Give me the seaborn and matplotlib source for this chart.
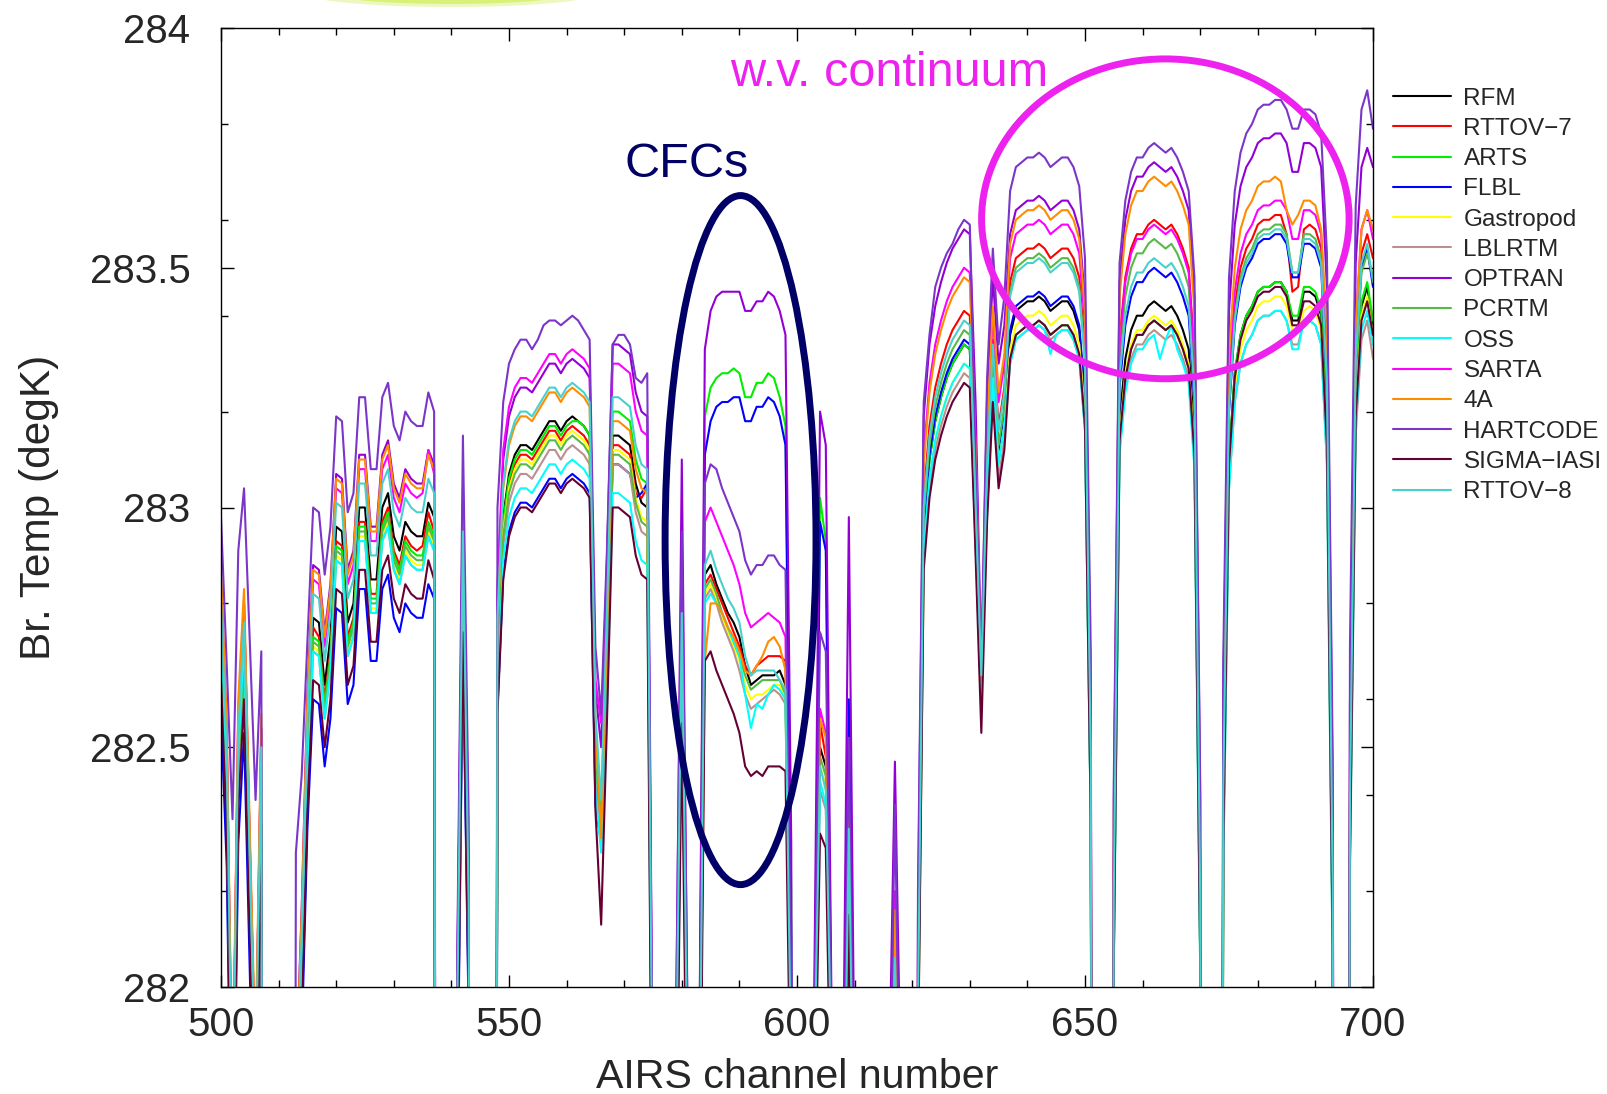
import matplotlib
matplotlib.use("Agg")
import matplotlib.pyplot as plt
import numpy as np
import pandas as pd
import seaborn as sns
from matplotlib.patches import Ellipse
from matplotlib.ticker import MultipleLocator, FuncFormatter

# ---------------------------------------------------------------- data
D = 276.0   # channels whose brightness temperature is far below the plotted range
channels = list(range(500, 701))

rfm = [
    282.72, 282.40, 281.60, 282.45, 282.68, 282.18, 281.70, 282.42, D, D,
    D, D, D, 281.70, 282.05, 282.50, 282.77, 282.76, 282.63, 282.73,
    282.96, 282.95, 282.76, 282.80, 283.00, 283.00, 282.85, 282.85, 283.00, 283.03,
    282.94, 282.91, 282.97, 282.95, 282.94, 282.94, 283.01, 282.98, D, D,
    D, 281.85, 282.88, 282.10, D, D, D, D, 282.70, 282.98,
    283.07, 283.11, 283.13, 283.13, 283.12, 283.14, 283.16, 283.18, 283.18, 283.16,
    283.18, 283.19, 283.18, 283.17, 283.15, 282.50, 282.35, 282.70, 283.15, 283.15,
    283.14, 283.13, 283.05, 283.01, 283.00, 281.50, D, D, D, 281.70,
    282.70, 281.70, D, 281.50, 282.86, 282.88, 282.84, 282.81, 282.78, 282.76,
    282.73, 282.67, 282.63, 282.64, 282.65, 282.65, 282.65, 282.66, 282.63, 281.80,
    D, D, D, 281.80, 282.50, 282.46, 281.80, D, 281.50, 282.30,
    281.50, D, D, D, D, D, 281.50, 282.10, 281.50, D,
    D, 281.90, 282.95, 283.10, 283.18, 283.23, 283.27, 283.30, 283.32, 283.34,
    283.33, 282.98, 282.62, 283.05, 283.30, 283.12, 283.20, 283.36, 283.41, 283.42,
    283.43, 283.43, 283.44, 283.43, 283.41, 283.42, 283.43, 283.43, 283.41, 283.37,
    283.22, 282.40, D, D, D, 282.10, 283.18, 283.31, 283.37, 283.40,
    283.40, 283.42, 283.43, 283.42, 283.41, 283.42, 283.40, 283.37, 283.33, 283.15,
    282.10, D, D, D, 282.30, 283.10, 283.28, 283.36, 283.40, 283.42,
    283.45, 283.46, 283.46, 283.47, 283.47, 283.45, 283.39, 283.39, 283.45, 283.45,
    283.44, 283.40, 283.15, 282.10, D, D, 282.30, 283.22, 283.42, 283.46,
    283.38]

rttov7 = [
    282.75, 282.43, 281.63, 282.48, 282.71, 282.21, 281.73, 282.45, D, D,
    D, D, D, 281.67, 282.02, 282.47, 282.75, 282.73, 282.60, 282.70,
    282.93, 282.92, 282.73, 282.77, 282.97, 282.97, 282.82, 282.82, 282.97, 283.00,
    282.91, 282.88, 282.94, 282.92, 282.91, 282.92, 282.99, 282.95, D, D,
    D, 281.82, 282.85, 282.07, D, D, D, D, 282.68, 282.96,
    283.05, 283.09, 283.11, 283.11, 283.10, 283.12, 283.14, 283.16, 283.16, 283.14,
    283.16, 283.17, 283.16, 283.15, 283.13, 282.48, 282.35, 282.68, 283.13, 283.13,
    283.12, 283.11, 283.03, 283.02, 283.04, 281.50, D, D, D, 281.68,
    282.68, 281.68, D, 281.50, 282.84, 282.86, 282.83, 282.80, 282.77, 282.74,
    282.71, 282.67, 282.65, 282.67, 282.68, 282.69, 282.69, 282.69, 282.68, 281.85,
    D, D, D, 281.82, 282.55, 282.48, 281.82, D, 281.50, 282.35,
    281.50, D, D, D, D, D, 281.50, 282.12, 281.50, D,
    D, 281.95, 283.02, 283.17, 283.25, 283.30, 283.34, 283.37, 283.39, 283.41,
    283.40, 283.05, 282.64, 283.10, 283.35, 283.17, 283.25, 283.47, 283.52, 283.53,
    283.54, 283.54, 283.55, 283.54, 283.52, 283.53, 283.54, 283.54, 283.52, 283.48,
    283.33, 282.50, D, D, D, 282.25, 283.35, 283.48, 283.54, 283.57,
    283.57, 283.59, 283.60, 283.59, 283.58, 283.59, 283.57, 283.54, 283.50, 283.32,
    282.25, D, D, D, 282.44, 283.24, 283.42, 283.50, 283.54, 283.56,
    283.59, 283.60, 283.60, 283.61, 283.61, 283.57, 283.45, 283.46, 283.58, 283.59,
    283.58, 283.54, 283.28, 282.20, D, D, 282.40, 283.33, 283.53, 283.57,
    283.52]

arts = [
    282.74, 282.42, 281.62, 282.47, 282.70, 282.20, 281.72, 282.44, D, D,
    D, D, D, 281.66, 282.01, 282.46, 282.73, 282.72, 282.59, 282.69,
    282.92, 282.91, 282.72, 282.76, 282.96, 282.96, 282.81, 282.81, 282.96, 282.99,
    282.90, 282.87, 282.93, 282.91, 282.90, 282.90, 282.97, 282.94, D, D,
    D, 281.87, 282.90, 282.12, D, D, D, D, 282.69, 282.97,
    283.06, 283.10, 283.12, 283.12, 283.11, 283.13, 283.15, 283.17, 283.17, 283.15,
    283.17, 283.18, 283.18, 283.17, 283.15, 282.49, 282.37, 282.75, 283.20, 283.20,
    283.19, 283.18, 283.10, 283.06, 283.05, 281.55, D, D, D, 281.75,
    282.75, 281.75, D, 281.80, 283.19, 283.25, 283.27, 283.28, 283.28, 283.29,
    283.28, 283.23, 283.23, 283.26, 283.26, 283.28, 283.27, 283.23, 283.17, 282.20,
    D, D, D, 281.90, 283.02, 282.93, 281.90, D, 281.60, 282.55,
    281.60, D, D, D, D, D, 281.50, 282.12, 281.50, D,
    D, 281.90, 282.95, 283.10, 283.18, 283.23, 283.27, 283.30, 283.32, 283.34,
    283.33, 282.98, 282.62, 283.04, 283.29, 283.11, 283.19, 283.31, 283.36, 283.37,
    283.38, 283.38, 283.39, 283.38, 283.36, 283.37, 283.38, 283.38, 283.36, 283.32,
    283.17, 282.35, D, D, D, 282.06, 283.14, 283.27, 283.33, 283.36,
    283.36, 283.38, 283.39, 283.38, 283.37, 283.38, 283.36, 283.33, 283.29, 283.11,
    282.06, D, D, D, 282.30, 283.10, 283.28, 283.36, 283.40, 283.42,
    283.45, 283.46, 283.46, 283.47, 283.47, 283.45, 283.40, 283.40, 283.46, 283.46,
    283.45, 283.41, 283.16, 282.10, D, D, 282.31, 283.23, 283.43, 283.47,
    283.39]

flbl = [
    282.57, 282.25, 281.45, 282.30, 282.53, 282.03, 281.55, 282.27, D, D,
    D, D, D, 281.53, 281.88, 282.33, 282.60, 282.59, 282.46, 282.56,
    282.79, 282.78, 282.59, 282.63, 282.83, 282.83, 282.68, 282.68, 282.83, 282.86,
    282.77, 282.74, 282.80, 282.78, 282.77, 282.77, 282.84, 282.81, D, D,
    D, 281.68, 282.71, 281.93, D, D, D, D, 282.58, 282.86,
    282.95, 282.99, 283.01, 283.01, 283.00, 283.02, 283.04, 283.06, 283.06, 283.04,
    283.06, 283.07, 283.06, 283.05, 283.03, 282.38, 282.30, 282.64, 283.09, 283.09,
    283.08, 283.07, 283.02, 283.03, 283.05, 281.50, D, D, D, 281.70,
    282.70, 281.70, D, 281.75, 283.11, 283.18, 283.21, 283.22, 283.22, 283.23,
    283.23, 283.18, 283.18, 283.21, 283.21, 283.23, 283.22, 283.19, 283.13, 282.10,
    D, D, D, 281.85, 282.97, 282.91, 281.85, D, 281.60, 282.60,
    281.60, D, D, D, D, D, 281.50, 282.10, 281.50, D,
    D, 281.91, 282.96, 283.11, 283.19, 283.24, 283.28, 283.31, 283.33, 283.35,
    283.34, 282.99, 282.62, 283.05, 283.30, 283.12, 283.20, 283.37, 283.42, 283.43,
    283.44, 283.44, 283.45, 283.44, 283.42, 283.43, 283.44, 283.44, 283.42, 283.38,
    283.23, 282.41, D, D, D, 282.17, 283.25, 283.38, 283.44, 283.47,
    283.47, 283.49, 283.50, 283.49, 283.48, 283.49, 283.47, 283.44, 283.40, 283.22,
    282.17, D, D, D, 282.40, 283.20, 283.38, 283.46, 283.50, 283.52,
    283.55, 283.56, 283.56, 283.57, 283.57, 283.55, 283.48, 283.48, 283.55, 283.55,
    283.54, 283.50, 283.25, 282.20, D, D, 282.38, 283.30, 283.50, 283.54,
    283.46]

gastropod = [
    282.70, 282.38, 281.58, 282.43, 282.66, 282.16, 281.68, 282.40, D, D,
    D, D, D, 281.64, 281.99, 282.44, 282.71, 282.70, 282.57, 282.67,
    282.90, 282.89, 282.70, 282.74, 282.94, 282.94, 282.79, 282.79, 282.94, 282.97,
    282.88, 282.85, 282.91, 282.89, 282.88, 282.88, 282.95, 282.92, D, D,
    D, 281.81, 282.84, 282.06, D, D, D, D, 282.67, 282.95,
    283.04, 283.08, 283.10, 283.10, 283.09, 283.11, 283.13, 283.15, 283.15, 283.13,
    283.15, 283.16, 283.15, 283.14, 283.12, 282.47, 282.33, 282.67, 283.12, 283.12,
    283.11, 283.10, 283.02, 282.98, 282.97, 281.47, D, D, D, 281.66,
    282.66, 281.66, D, 281.47, 282.82, 282.84, 282.81, 282.77, 282.74, 282.71,
    282.68, 282.63, 282.60, 282.61, 282.61, 282.62, 282.63, 282.63, 282.60, 281.78,
    D, D, D, 281.78, 282.46, 282.42, 281.78, D, 281.48, 282.28,
    281.48, D, D, D, D, D, 281.48, 282.03, 281.48, D,
    D, 281.84, 282.88, 283.04, 283.13, 283.19, 283.23, 283.26, 283.28, 283.30,
    283.29, 282.95, 282.61, 283.02, 283.27, 283.09, 283.17, 283.33, 283.38, 283.39,
    283.40, 283.40, 283.41, 283.40, 283.38, 283.39, 283.40, 283.40, 283.38, 283.34,
    283.19, 282.37, D, D, D, 282.07, 283.15, 283.28, 283.34, 283.37,
    283.37, 283.39, 283.40, 283.39, 283.38, 283.39, 283.37, 283.34, 283.30, 283.12,
    282.07, D, D, D, 282.27, 283.07, 283.25, 283.33, 283.37, 283.39,
    283.42, 283.43, 283.43, 283.44, 283.44, 283.42, 283.37, 283.37, 283.41, 283.42,
    283.41, 283.37, 283.12, 282.07, D, D, 282.28, 283.20, 283.40, 283.44,
    283.36]

lblrtm = [
    282.69, 282.37, 281.57, 282.42, 282.65, 282.15, 281.67, 282.39, D, D,
    D, D, D, 281.63, 281.98, 282.43, 282.70, 282.69, 282.56, 282.66,
    282.89, 282.88, 282.69, 282.73, 282.93, 282.93, 282.78, 282.78, 282.93, 282.96,
    282.87, 282.84, 282.90, 282.88, 282.87, 282.87, 282.94, 282.91, D, D,
    D, 281.79, 282.82, 282.04, D, D, D, D, 282.64, 282.92,
    283.01, 283.05, 283.07, 283.07, 283.06, 283.08, 283.10, 283.12, 283.12, 283.10,
    283.12, 283.13, 283.12, 283.11, 283.09, 282.44, 282.32, 282.64, 283.09, 283.09,
    283.08, 283.07, 282.99, 282.95, 282.94, 281.44, D, D, D, 281.64,
    282.64, 281.64, D, 281.44, 282.81, 282.83, 282.80, 282.76, 282.73, 282.70,
    282.66, 282.61, 282.58, 282.59, 282.60, 282.61, 282.62, 282.61, 282.59, 281.75,
    D, D, D, 281.75, 282.41, 282.37, 281.75, D, 281.45, 282.25,
    281.45, D, D, D, D, D, 281.45, 282.02, 281.45, D,
    D, 281.84, 282.89, 283.04, 283.12, 283.17, 283.21, 283.24, 283.26, 283.28,
    283.27, 282.92, 282.60, 282.99, 283.24, 283.06, 283.14, 283.30, 283.35, 283.36,
    283.37, 283.37, 283.38, 283.37, 283.35, 283.36, 283.37, 283.37, 283.35, 283.31,
    283.16, 282.34, D, D, D, 282.04, 283.12, 283.25, 283.31, 283.34,
    283.34, 283.36, 283.37, 283.36, 283.35, 283.36, 283.34, 283.31, 283.27, 283.09,
    282.04, D, D, D, 282.24, 283.04, 283.22, 283.30, 283.34, 283.36,
    283.39, 283.40, 283.40, 283.41, 283.41, 283.39, 283.34, 283.34, 283.39, 283.39,
    283.38, 283.34, 283.09, 282.04, D, D, 282.23, 283.15, 283.35, 283.39,
    283.31]

optran = [
    282.84, 282.52, 281.72, 282.57, 282.80, 282.30, 281.82, 282.54, D, D,
    D, D, D, 281.81, 282.16, 282.61, 282.88, 282.87, 282.74, 282.84,
    283.07, 283.06, 282.87, 282.91, 283.11, 283.11, 282.96, 282.96, 283.11, 283.14,
    283.05, 283.02, 283.08, 283.06, 283.05, 283.05, 283.12, 283.09, D, D,
    D, 281.98, 283.01, 282.23, D, D, D, D, 282.82, 283.10,
    283.19, 283.23, 283.25, 283.25, 283.24, 283.26, 283.28, 283.30, 283.30, 283.28,
    283.30, 283.31, 283.30, 283.29, 283.27, 282.62, 282.50, 282.89, 283.34, 283.34,
    283.33, 283.32, 283.24, 283.20, 283.19, 281.69, D, D, D, 281.90,
    283.10, 281.90, D, 281.80, 283.33, 283.41, 283.44, 283.45, 283.45, 283.45,
    283.45, 283.41, 283.41, 283.43, 283.43, 283.45, 283.44, 283.41, 283.36, 282.30,
    D, D, D, 282.00, 283.20, 283.13, 281.95, D, 281.80, 282.98,
    281.80, D, D, D, D, D, 281.80, 282.47, 281.80, D,
    D, 282.14, 283.19, 283.34, 283.42, 283.47, 283.51, 283.54, 283.56, 283.58,
    283.57, 283.22, 282.67, 283.23, 283.48, 283.30, 283.38, 283.57, 283.62, 283.63,
    283.64, 283.64, 283.65, 283.64, 283.62, 283.63, 283.64, 283.64, 283.62, 283.58,
    283.43, 282.61, D, D, D, 282.39, 283.47, 283.60, 283.66, 283.69,
    283.69, 283.71, 283.72, 283.71, 283.70, 283.71, 283.69, 283.66, 283.62, 283.44,
    282.39, D, D, D, 282.61, 283.41, 283.59, 283.67, 283.71, 283.73,
    283.76, 283.77, 283.77, 283.78, 283.78, 283.76, 283.70, 283.70, 283.76, 283.76,
    283.75, 283.71, 283.46, 282.41, D, D, 282.59, 283.51, 283.71, 283.75,
    283.71]

pcrtm = [
    282.72, 282.40, 281.60, 282.45, 282.68, 282.18, 281.70, 282.42, D, D,
    D, D, D, 281.65, 282.00, 282.45, 282.72, 282.71, 282.58, 282.68,
    282.91, 282.90, 282.71, 282.75, 282.95, 282.95, 282.80, 282.80, 282.95, 282.98,
    282.89, 282.86, 282.92, 282.90, 282.89, 282.89, 282.96, 282.93, D, D,
    D, 281.83, 282.86, 282.08, D, D, D, D, 282.66, 282.94,
    283.03, 283.07, 283.09, 283.09, 283.08, 283.10, 283.12, 283.14, 283.14, 283.12,
    283.14, 283.15, 283.14, 283.13, 283.11, 282.46, 282.35, 282.66, 283.11, 283.11,
    283.10, 283.09, 283.01, 282.97, 282.96, 281.47, D, D, D, 281.67,
    282.67, 281.67, D, 281.47, 282.83, 282.85, 282.82, 282.78, 282.75, 282.72,
    282.69, 282.65, 282.62, 282.63, 282.64, 282.64, 282.64, 282.64, 282.61, 281.78,
    D, D, D, 281.78, 282.48, 282.44, 281.78, D, 281.48, 282.29,
    281.48, D, D, D, D, D, 281.48, 282.05, 281.48, D,
    D, 281.93, 282.98, 283.13, 283.21, 283.26, 283.30, 283.33, 283.35, 283.37,
    283.36, 283.01, 282.62, 283.06, 283.31, 283.13, 283.21, 283.45, 283.50, 283.51,
    283.52, 283.52, 283.53, 283.52, 283.50, 283.51, 283.52, 283.52, 283.50, 283.46,
    283.31, 282.49, D, D, D, 282.23, 283.31, 283.44, 283.50, 283.53,
    283.53, 283.55, 283.56, 283.55, 283.54, 283.55, 283.53, 283.50, 283.46, 283.28,
    282.23, D, D, D, 282.42, 283.22, 283.40, 283.48, 283.52, 283.54,
    283.57, 283.58, 283.58, 283.59, 283.59, 283.57, 283.49, 283.49, 283.57, 283.57,
    283.56, 283.52, 283.27, 282.22, D, D, 282.37, 283.29, 283.49, 283.53,
    283.48]

oss = [
    282.76, 282.44, 281.64, 282.49, 282.72, 282.22, 281.74, 282.46, D, D,
    D, D, D, 281.63, 281.98, 282.43, 282.70, 282.69, 282.56, 282.66,
    282.89, 282.88, 282.69, 282.73, 282.93, 282.93, 282.78, 282.78, 282.93, 282.96,
    282.87, 282.84, 282.90, 282.88, 282.87, 282.87, 282.94, 282.91, D, D,
    D, 281.76, 282.79, 282.01, D, D, D, D, 282.61, 282.89,
    282.98, 283.02, 283.04, 283.04, 283.03, 283.05, 283.07, 283.09, 283.09, 283.07,
    283.09, 283.10, 283.09, 283.08, 283.06, 282.41, 282.28, 282.58, 283.03, 283.03,
    283.02, 283.01, 282.93, 282.89, 282.88, 281.40, D, D, D, 281.63,
    282.63, 281.63, D, 281.43, 282.80, 282.82, 282.80, 282.78, 282.75, 282.72,
    282.69, 282.61, 282.54, 282.59, 282.58, 282.61, 282.63, 282.62, 282.60, 281.75,
    D, D, D, 281.75, 282.43, 282.38, 281.75, D, 281.45, 282.26,
    281.45, D, D, D, D, D, 281.45, 282.02, 281.45, D,
    D, 281.86, 282.91, 283.06, 283.14, 283.19, 283.23, 283.26, 283.28, 283.30,
    283.29, 282.96, 282.60, 283.02, 283.27, 283.09, 283.17, 283.30, 283.35, 283.36,
    283.37, 283.37, 283.38, 283.37, 283.32, 283.36, 283.37, 283.37, 283.35, 283.31,
    283.16, 282.34, D, D, D, 282.03, 283.11, 283.24, 283.30, 283.33,
    283.33, 283.35, 283.36, 283.31, 283.35, 283.38, 283.33, 283.30, 283.26, 283.08,
    282.03, D, D, D, 282.24, 283.04, 283.22, 283.30, 283.34, 283.36,
    283.39, 283.40, 283.40, 283.41, 283.41, 283.39, 283.33, 283.33, 283.39, 283.39,
    283.38, 283.34, 283.09, 282.04, D, D, 282.25, 283.17, 283.37, 283.41,
    283.34]

sarta = [
    282.84, 282.52, 281.72, 282.57, 282.80, 282.30, 281.82, 282.54, D, D,
    D, D, D, 281.78, 282.13, 282.58, 282.85, 282.84, 282.71, 282.81,
    283.04, 283.03, 282.84, 282.88, 283.08, 283.08, 282.93, 282.93, 283.08, 283.11,
    283.02, 282.99, 283.05, 283.03, 283.02, 283.03, 283.12, 283.07, D, D,
    D, 282.01, 283.04, 282.26, D, D, D, D, 282.84, 283.12,
    283.21, 283.25, 283.27, 283.27, 283.26, 283.28, 283.30, 283.32, 283.32, 283.30,
    283.32, 283.33, 283.32, 283.31, 283.29, 282.64, 282.55, 282.85, 283.30, 283.30,
    283.29, 283.28, 283.20, 283.16, 283.15, 281.65, D, D, D, 281.85,
    282.85, 281.85, D, 281.65, 282.97, 283.00, 282.97, 282.94, 282.91, 282.88,
    282.84, 282.78, 282.75, 282.76, 282.77, 282.78, 282.77, 282.76, 282.73, 281.90,
    D, D, D, 281.85, 282.58, 282.53, 281.85, D, 281.55, 282.40,
    281.55, D, D, D, D, D, 281.55, 282.20, 281.55, D,
    D, 282.06, 283.11, 283.26, 283.34, 283.39, 283.43, 283.46, 283.48, 283.50,
    283.49, 283.14, 282.65, 283.15, 283.40, 283.22, 283.30, 283.52, 283.57, 283.58,
    283.59, 283.59, 283.60, 283.59, 283.57, 283.58, 283.59, 283.59, 283.57, 283.53,
    283.38, 282.56, D, D, D, 282.26, 283.34, 283.47, 283.53, 283.56,
    283.56, 283.58, 283.59, 283.58, 283.57, 283.58, 283.56, 283.53, 283.49, 283.31,
    282.26, D, D, D, 282.47, 283.27, 283.45, 283.53, 283.57, 283.59,
    283.62, 283.63, 283.63, 283.64, 283.64, 283.62, 283.56, 283.56, 283.62, 283.62,
    283.61, 283.57, 283.32, 282.27, D, D, 282.46, 283.38, 283.58, 283.62,
    283.56]

fourA = [
    282.87, 282.55, 281.75, 282.60, 282.83, 282.33, 281.85, 282.57, D, D,
    D, D, D, 281.80, 282.15, 282.60, 282.87, 282.86, 282.73, 282.83,
    283.06, 283.05, 282.86, 282.90, 283.10, 283.10, 282.95, 282.95, 283.10, 283.13,
    283.04, 283.01, 283.07, 283.05, 283.04, 283.04, 283.11, 283.08, D, D,
    D, 281.96, 282.99, 282.21, D, D, D, D, 282.76, 283.04,
    283.13, 283.17, 283.19, 283.19, 283.18, 283.20, 283.22, 283.24, 283.24, 283.22,
    283.24, 283.25, 283.24, 283.23, 283.21, 282.56, 282.31, 282.73, 283.18, 283.18,
    283.17, 283.16, 283.08, 283.04, 283.03, 281.55, D, D, D, 281.75,
    282.75, 281.75, D, 281.55, 282.68, 282.80, 282.80, 282.78, 282.75, 282.73,
    282.70, 282.66, 282.65, 282.67, 282.69, 282.72, 282.73, 282.71, 282.66, 281.80,
    D, D, D, 281.80, 282.56, 282.52, 281.80, D, 281.55, 282.38,
    281.55, D, D, D, D, D, 281.55, 282.16, 281.55, D,
    D, 282.04, 283.09, 283.24, 283.32, 283.37, 283.41, 283.44, 283.46, 283.48,
    283.47, 283.12, 282.64, 283.17, 283.42, 283.24, 283.32, 283.55, 283.60, 283.61,
    283.62, 283.62, 283.63, 283.62, 283.60, 283.61, 283.62, 283.62, 283.60, 283.56,
    283.41, 282.59, D, D, D, 282.36, 283.44, 283.57, 283.63, 283.66,
    283.66, 283.68, 283.69, 283.68, 283.67, 283.68, 283.66, 283.63, 283.59, 283.41,
    282.36, D, D, D, 282.52, 283.32, 283.50, 283.58, 283.62, 283.64,
    283.67, 283.68, 283.68, 283.69, 283.68, 283.62, 283.59, 283.61, 283.64, 283.64,
    283.63, 283.58, 283.37, 282.32, D, D, 282.46, 283.38, 283.58, 283.62,
    283.58]

hartcode = [
    282.98, 282.67, 282.35, 282.91, 283.04, 282.72, 282.39, 282.70, D, D,
    D, D, D, 282.28, 282.44, 282.72, 283.00, 282.99, 282.86, 282.96,
    283.19, 283.18, 282.99, 283.03, 283.23, 283.23, 283.08, 283.08, 283.23, 283.26,
    283.17, 283.14, 283.20, 283.18, 283.17, 283.17, 283.24, 283.20, D, D,
    D, 282.05, 283.15, 282.35, D, D, D, D, 283.00, 283.22,
    283.30, 283.33, 283.35, 283.35, 283.33, 283.35, 283.38, 283.39, 283.39, 283.38,
    283.39, 283.40, 283.39, 283.37, 283.35, 282.71, 282.57, 282.91, 283.34, 283.36,
    283.36, 283.34, 283.27, 283.26, 283.28, 281.70, D, D, D, 281.95,
    282.95, 281.95, D, 281.70, 283.05, 283.09, 283.08, 283.04, 283.01, 282.98,
    282.95, 282.89, 282.86, 282.88, 282.88, 282.90, 282.90, 282.88, 282.87, 282.00,
    D, D, D, 281.90, 282.74, 282.70, 281.90, D, 281.60, 282.52,
    281.60, D, D, D, D, D, 281.60, 282.38, 281.60, D,
    D, 282.20, 283.22, 283.36, 283.46, 283.50, 283.53, 283.55, 283.58, 283.60,
    283.59, 283.10, 282.66, 283.27, 283.54, 283.34, 283.44, 283.66, 283.71, 283.72,
    283.73, 283.73, 283.74, 283.73, 283.71, 283.72, 283.73, 283.73, 283.71, 283.67,
    283.52, 282.70, D, D, D, 282.43, 283.51, 283.64, 283.70, 283.73,
    283.73, 283.75, 283.76, 283.75, 283.74, 283.75, 283.73, 283.70, 283.66, 283.48,
    282.43, D, D, D, 282.68, 283.48, 283.66, 283.74, 283.78, 283.80,
    283.83, 283.84, 283.84, 283.85, 283.85, 283.83, 283.79, 283.79, 283.83, 283.83,
    283.82, 283.78, 283.53, 282.48, D, D, 282.71, 283.63, 283.83, 283.87,
    283.79]

sigma_iasi = [
    282.64, 282.32, 281.52, 282.37, 282.60, 282.10, 281.62, 282.34, D, D,
    D, D, D, 281.57, 281.92, 282.37, 282.64, 282.63, 282.50, 282.60,
    282.83, 282.82, 282.63, 282.67, 282.87, 282.87, 282.72, 282.72, 282.87, 282.90,
    282.81, 282.78, 282.84, 282.82, 282.81, 282.81, 282.89, 282.85, D, D,
    D, 281.71, 282.74, 281.96, D, D, D, D, 282.57, 282.85,
    282.94, 282.98, 283.00, 283.00, 282.99, 283.01, 283.03, 283.05, 283.05, 283.03,
    283.05, 283.06, 283.05, 283.04, 283.02, 282.37, 282.13, 282.55, 283.00, 283.00,
    282.99, 282.98, 282.90, 282.86, 282.85, 281.35, D, D, D, 281.55,
    282.55, 281.55, D, 281.35, 282.68, 282.70, 282.66, 282.63, 282.60, 282.57,
    282.53, 282.46, 282.44, 282.45, 282.44, 282.46, 282.46, 282.46, 282.45, 281.65,
    D, D, D, 281.65, 282.32, 282.29, 281.65, D, 281.35, 282.15,
    281.35, D, D, D, D, D, 281.35, 281.95, 281.35, D,
    D, 281.82, 282.87, 283.02, 283.10, 283.15, 283.19, 283.22, 283.24, 283.26,
    283.25, 282.90, 282.53, 282.97, 283.22, 283.04, 283.12, 283.31, 283.36, 283.37,
    283.38, 283.38, 283.39, 283.38, 283.36, 283.37, 283.38, 283.38, 283.36, 283.32,
    283.17, 282.35, D, D, D, 282.06, 283.14, 283.27, 283.33, 283.36,
    283.36, 283.38, 283.39, 283.38, 283.37, 283.38, 283.36, 283.33, 283.29, 283.11,
    282.06, D, D, D, 282.29, 283.09, 283.27, 283.35, 283.39, 283.41,
    283.44, 283.45, 283.45, 283.46, 283.46, 283.44, 283.38, 283.38, 283.43, 283.43,
    283.42, 283.38, 283.13, 282.08, D, D, 282.27, 283.19, 283.39, 283.43,
    283.36]

rttov8 = [
    282.80, 282.48, 281.68, 282.53, 282.76, 282.26, 281.78, 282.50, D, D,
    D, D, D, 281.75, 282.10, 282.55, 282.82, 282.81, 282.68, 282.78,
    283.01, 283.00, 282.81, 282.85, 283.05, 283.05, 282.90, 282.90, 283.05, 283.08,
    282.99, 282.96, 283.02, 283.00, 282.99, 282.99, 283.06, 283.03, D, D,
    D, 281.92, 282.95, 282.17, D, D, D, D, 282.77, 283.05,
    283.14, 283.18, 283.20, 283.20, 283.19, 283.21, 283.23, 283.25, 283.25, 283.23,
    283.25, 283.26, 283.25, 283.24, 283.22, 282.57, 282.39, 282.78, 283.23, 283.23,
    283.22, 283.21, 283.13, 283.09, 283.08, 281.58, D, D, D, 281.78,
    282.78, 281.78, D, 281.58, 282.88, 282.91, 282.87, 282.84, 282.81, 282.79,
    282.76, 282.69, 282.65, 282.66, 282.66, 282.66, 282.66, 282.64, 282.62, 281.82,
    D, D, D, 281.82, 282.46, 282.41, 281.82, D, 281.52, 282.33,
    281.52, D, D, D, D, D, 281.52, 282.06, 281.52, D,
    D, 281.95, 283.00, 283.15, 283.23, 283.28, 283.32, 283.35, 283.37, 283.39,
    283.38, 283.01, 282.65, 283.09, 283.34, 283.16, 283.24, 283.44, 283.49, 283.50,
    283.51, 283.51, 283.52, 283.51, 283.49, 283.50, 283.51, 283.51, 283.49, 283.45,
    283.30, 282.48, D, D, D, 282.19, 283.27, 283.40, 283.46, 283.49,
    283.49, 283.51, 283.52, 283.51, 283.50, 283.51, 283.49, 283.46, 283.42, 283.24,
    282.19, D, D, D, 282.41, 283.21, 283.39, 283.47, 283.51, 283.53,
    283.56, 283.57, 283.57, 283.58, 283.58, 283.56, 283.49, 283.49, 283.56, 283.56,
    283.55, 283.51, 283.26, 282.21, D, D, 282.39, 283.31, 283.51, 283.55,
    283.47]

models = ["RFM", "RTTOV\u22127", "ARTS", "FLBL", "Gastropod", "LBLRTM", "OPTRAN",
          "PCRTM", "OSS", "SARTA", "4A", "HARTCODE", "SIGMA\u2212IASI", "RTTOV\u22128"]
colors = ["#000000", "#ff0000", "#00ee00", "#0000ff", "#ffff00", "#bc8f8f", "#9400d3",
          "#55bb44", "#00ffff", "#ff00ff", "#ff8c00", "#7b35c8", "#660033", "#48d1cc"]
series = [rfm, rttov7, arts, flbl, gastropod, lblrtm, optran,
          pcrtm, oss, sarta, fourA, hartcode, sigma_iasi, rttov8]

# ---------------------------------------------------------------- table
frames = []
for name, vals in zip(models, series):
    if len(vals) != len(channels):
        raise ValueError(f"{name}: {len(vals)} values")
    frames.append(pd.DataFrame({"channel": channels, "Tb": vals, "model": name}))
df = pd.concat(frames, ignore_index=True)

# ---------------------------------------------------------------- style
sns.set_style("ticks")
plt.rcParams["font.family"] = ["Liberation Sans", "DejaVu Sans"]
plt.rcParams["axes.unicode_minus"] = True

W, H = 1607, 1094
fig = plt.figure(figsize=(W / 100, H / 100), dpi=100)
fig.patch.set_facecolor("white")
L, R, T, B = 221, 1373, 28, 987
ax = fig.add_axes([L / W, 1 - B / H, (R - L) / W, (B - T) / H])

sns.lineplot(data=df, x="channel", y="Tb", hue="model", hue_order=models,
             palette=dict(zip(models, colors)), estimator=None, sort=False,
             linewidth=1.5, ax=ax, legend="full")

ax.set_xlim(500, 700)
ax.set_ylim(282, 284)
ax.xaxis.set_major_locator(MultipleLocator(50))
ax.xaxis.set_minor_locator(MultipleLocator(10))
ax.yaxis.set_major_locator(MultipleLocator(0.5))
ax.yaxis.set_minor_locator(MultipleLocator(0.2))
ax.yaxis.set_major_formatter(FuncFormatter(lambda v, p: f"{v:g}"))
ax.tick_params(which="both", direction="in", top=True, right=True, width=1.0,
               color="black")
ax.tick_params(which="major", length=9, labelsize=29)
ax.tick_params(axis="x", which="major", pad=14)
ax.tick_params(axis="y", which="major", pad=22)
ax.tick_params(which="minor", length=5)
for s in ax.spines.values():
    s.set_linewidth(1.0)
    s.set_color("black")

ax.set_xlabel("AIRS channel number", fontsize=29.6, labelpad=10)
ax.set_ylabel("Br. Temp (degK)", fontsize=30.5, labelpad=22)

# ---------------------------------------------------------------- annotations
ax.text(588.4, 283.905, "w.v. continuum", color="#ee22ee", fontsize=35,
        ha="left", va="center")
ax.text(570.0, 283.715, "CFCs", color="#000066", fontsize=35,
        ha="left", va="center")
ax.add_patch(Ellipse((590.2, 282.932), 26.2, 1.437, fill=False,
                     edgecolor="#000066", linewidth=5, zorder=6))
ax.add_patch(Ellipse((663.95, 283.602), 63.8, 0.667, fill=False,
                     edgecolor="#ee22ee", linewidth=5, zorder=6))

# faint glow at the very top of the slide
fig.patches.append(Ellipse((451 / W, 1 + 8 / H), 300 / W, 30 / H,
                           transform=fig.transFigure, facecolor="#e8f7b0",
                           edgecolor="none", alpha=0.8, zorder=0))
fig.patches.append(Ellipse((451 / W, 1 + 8 / H), 250 / W, 24 / H,
                           transform=fig.transFigure, facecolor="#d2ef5a",
                           edgecolor="none", alpha=0.7, zorder=0))

# ---------------------------------------------------------------- legend
handles, labels = ax.get_legend_handles_labels()
if ax.get_legend() is not None:
    ax.get_legend().remove()
leg = fig.legend(handles, labels, loc="upper left",
                 bbox_to_anchor=(1393 / W, 1 - 87.5 / H),
                 frameon=False, fontsize=17.5, handlelength=2.4,
                 handletextpad=0.5, labelspacing=0.34, borderpad=0,
                 borderaxespad=0)
for ln in leg.get_lines():
    ln.set_linewidth(1.5)

fig.savefig("out.png", dpi=100)
